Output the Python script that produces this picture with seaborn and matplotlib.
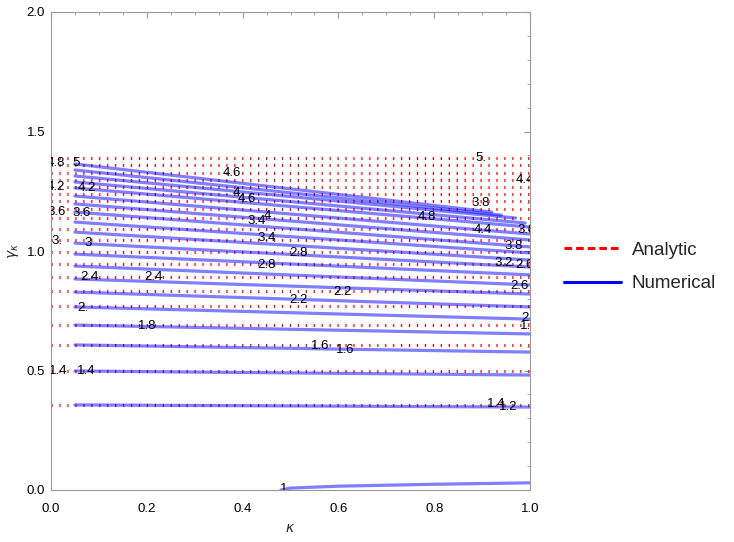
import numpy as np
import pandas as pd
import matplotlib
matplotlib.use("Agg")
import matplotlib.pyplot as plt
import seaborn as sns
from matplotlib.lines import Line2D

sns.set_theme(style="white")
plt.rcParams['font.family'] = ['Liberation Sans', 'DejaVu Sans']
plt.rcParams['mathtext.fontset'] = 'dejavusans'

# contour levels
levels = [1.2, 1.4, 1.6, 1.8, 2.0, 2.2, 2.4, 2.6, 2.8, 3.0,
          3.2, 3.4, 3.6, 3.8, 4.0, 4.2, 4.4, 4.6, 4.8, 5.0]
# analytic: gamma of each level (horizontal contour)
analytic_gamma = [0.356, 0.498, 0.607, 0.690, 0.770, 0.833, 0.891, 0.946, 0.996, 1.046,
                  1.092, 1.138, 1.176, 1.209, 1.238, 1.268, 1.297, 1.326, 1.360, 1.389]
# numerical: start at kappa=0.05, end at kappa_end
num_k_start = 0.05
num_g_start = [0.356, 0.498, 0.607, 0.690, 0.766, 0.828, 0.883, 0.937, 0.987, 1.033,
               1.079, 1.121, 1.163, 1.197, 1.230, 1.264, 1.289, 1.314, 1.339, 1.364]
num_k_end = [1.0, 1.0, 1.0, 1.0, 1.0, 1.0, 1.0, 1.0, 1.0, 1.0,
             1.0, 1.0, 1.0, 1.0, 1.0, 1.0, 0.99, 0.97, 0.94, 0.92]
num_g_end = [0.347, 0.481, 0.577, 0.653, 0.715, 0.766, 0.820, 0.858, 0.900, 0.933,
             0.962, 0.992, 1.017, 1.046, 1.071, 1.100, 1.117, 1.138, 1.150, 1.163]
# level-1 numerical curve
lvl1_k = [0.48, 0.50, 0.60, 0.80, 1.00]
lvl1_g = [0.0, 0.008, 0.016, 0.024, 0.030]

# contour labels (text, kappa, gamma)
lab_text = ["4.8", "5", "4.6", "5.", "4.4", "4.2", "4.2", "4", "4.6", "3.6", "3.6",
            "4", "3.4", "3.4", "3.", "3", "2.8", "2.8", "4.8", "3.8", "4.4", "3.8",
            "3.8", "3.2", "2.6", "2.6", "2.4", "2.4", "2.2", "2.2", "2.", "2.", "1.8",
            "1.8", "1.6", "1.6", "1.4", "1.4", "1.4", "1.2", "1"]
lab_k = [0.010, 0.052, 0.378, 0.898, 0.990, 0.010, 0.075, 0.388, 0.409, 0.012, 0.063,
         0.451, 0.430, 0.451, 0.012, 0.077, 0.516, 0.449, 0.785, 0.896, 0.902, 0.992,
         0.965, 0.944, 0.988, 0.979, 0.081, 0.215, 0.608, 0.516, 0.067, 0.994, 0.200,
         0.998, 0.562, 0.614, 0.015, 0.073, 0.929, 0.954, 0.486]
lab_g = [1.368, 1.368, 1.326, 1.389, 1.297, 1.268, 1.264, 1.243, 1.218, 1.163, 1.159,
         1.146, 1.126, 1.054, 1.042, 1.033, 0.992, 0.941, 1.142, 1.201, 1.088, 1.088,
         1.021, 0.950, 0.941, 0.854, 0.891, 0.891, 0.828, 0.795, 0.762, 0.720, 0.686,
         0.686, 0.603, 0.586, 0.498, 0.498, 0.360, 0.347, 0.004]

fig = plt.figure(figsize=(7.34, 5.42), dpi=100)
ax = fig.add_axes([51/734, 52/542, 479/734, 478/542])

# analytic lines
rows = []
for lv, g in zip(levels, analytic_gamma):
    rows.append((lv, 0.0, g)); rows.append((lv, 1.0, g))
df_a = pd.DataFrame(rows, columns=["level", "kappa", "gamma"])
sns.lineplot(data=df_a, x="kappa", y="gamma", units="level", estimator=None,
             sort=False, color="red", lw=2.2, ax=ax, legend=False,
             linestyle=(0, (0.4, 2.2)), dash_capstyle="butt")

# numerical lines
rows = []
for lv, g0, k1, g1 in zip(levels, num_g_start, num_k_end, num_g_end):
    rows.append((lv, num_k_start, g0)); rows.append((lv, k1, g1))
for k, g in zip(lvl1_k, lvl1_g):
    rows.append((1.0, k, g))
df_n = pd.DataFrame(rows, columns=["level", "kappa", "gamma"])
sns.lineplot(data=df_n, x="kappa", y="gamma", units="level", estimator=None,
             sort=False, color=(0, 0, 1, 0.5), lw=2.3, ax=ax, legend=False)

for t, k, g in zip(lab_text, lab_k, lab_g):
    ax.text(k, g, t, ha="center", va="center", fontsize=9.5, color="black", clip_on=True)

ax.set_xlim(0, 1)
ax.set_ylim(0, 2)
ax.set_xticks(np.arange(0, 1.01, 0.2))
ax.set_xticks(np.arange(0, 1.001, 0.05), minor=True)
ax.set_yticks(np.arange(0, 2.01, 0.5))
ax.set_yticks(np.arange(0, 2.001, 0.1), minor=True)
ax.set_xticklabels([f"{v:.1f}" for v in np.arange(0, 1.01, 0.2)])
ax.set_yticklabels([f"{v:.1f}" for v in np.arange(0, 2.01, 0.5)])
ax.tick_params(which="both", direction="in", top=True, right=True, colors="#999999",
               labelcolor="black", labelsize=9.5)
ax.tick_params(axis="x", which="major", pad=9)
ax.tick_params(axis="y", which="major", pad=4.3)
ax.tick_params(which="major", length=4, width=0.8)
ax.tick_params(which="minor", length=2.5, width=0.6)
for s in ax.spines.values():
    s.set_color("#999999"); s.set_linewidth(0.8)
ax.set_xlabel("$\\kappa$", fontsize=10, labelpad=5)
ax.set_ylabel("$\\gamma_{\\kappa}$", fontsize=10, labelpad=4)

handles = [Line2D([], [], color="red", lw=2.2, linestyle=(0, (2.5, 1.3))),
           Line2D([], [], color="blue", lw=2.2)]
fig.legend(handles, ["Analytic", "Numerical"], loc="center left",
           bbox_to_anchor=(555/734, 1 - 267/542), frameon=False, fontsize=13.5,
           handlelength=3.0, handletextpad=0.6, labelspacing=0.85, borderpad=0)

fig.savefig("out.png", dpi=100)
